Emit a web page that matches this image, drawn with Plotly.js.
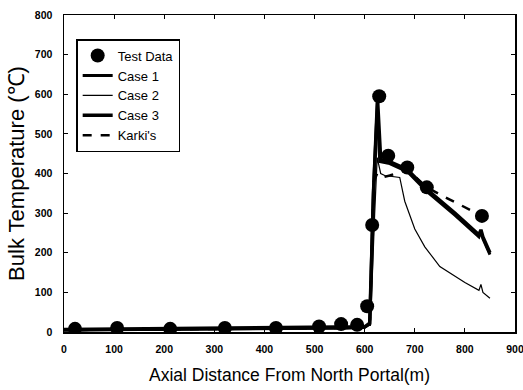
<!DOCTYPE html>
<html><head><meta charset="utf-8">
<script src="https://cdn.plot.ly/plotly-3.0.1.min.js"></script>
<style>html,body{margin:0;padding:0;background:#fff;}#c{width:523px;height:390px;}</style>
</head><body><div id="c"></div>
<script>
// Test data
var testX = [22, 106, 212, 321, 423, 509, 553, 585, 605, 615, 629, 647, 685, 724, 834];
var testY = [8, 10, 8, 10, 10, 14, 20, 18, 65, 270, 595, 445, 415, 365, 293];
// Case 1
var case1X = [0, 100, 200, 300, 400, 500, 560, 600, 610, 617, 625, 630, 650, 685, 724, 780, 828, 832, 836, 850];
var case1Y = [5, 6, 7, 7, 8, 9, 10, 12, 20, 350, 585, 430, 425, 405, 355, 295, 240, 255, 235, 195];
// Case 2
var case2X = [0, 100, 200, 300, 400, 500, 560, 600, 612, 620, 625, 632, 640, 670, 680, 700, 720, 750, 800, 828, 832, 836, 850];
var case2Y = [3, 4, 5, 5, 6, 7, 8, 10, 30, 300, 440, 400, 395, 390, 330, 260, 215, 165, 125, 105, 120, 100, 85];
// Case 3
var case3X = [0, 100, 200, 300, 400, 500, 560, 600, 610, 618, 626, 632, 650, 685, 724, 780, 828, 832, 836, 850];
var case3Y = [6, 7, 8, 8, 9, 10, 11, 13, 22, 360, 580, 435, 430, 410, 360, 300, 245, 258, 240, 200];
// Karki's
var karkiX = [0, 100, 200, 300, 400, 500, 560, 600, 610, 618, 625, 635, 650, 685, 724, 764, 834, 850];
var karkiY = [5, 6, 6, 7, 8, 9, 10, 12, 15, 380, 400, 390, 395, 410, 365, 338, 293, 288];

var traces = [
  {x: testX, y: testY, name: 'Test Data', mode: 'markers', type: 'scatter',
   marker: {color: '#000', size: 14}},
  {x: case1X, y: case1Y, name: 'Case 1', mode: 'lines', type: 'scatter',
   line: {color: '#000', width: 3}},
  {x: case2X, y: case2Y, name: 'Case 2', mode: 'lines', type: 'scatter',
   line: {color: '#000', width: 1.2}},
  {x: case3X, y: case3Y, name: 'Case 3', mode: 'lines', type: 'scatter',
   line: {color: '#000', width: 3.5}},
  {x: karkiX, y: karkiY, name: "Karki's", mode: 'lines', type: 'scatter',
   line: {color: '#000', width: 2.5, dash: 'dash'}}
];

var tickFont = {size: 10.5, weight: 'bold', color: '#000', family: 'Liberation Sans, Arial, sans-serif'};

var layout = {
  width: 523, height: 390,
  margin: {l: 64, r: 8, t: 15, b: 58},
  paper_bgcolor: '#fff', plot_bgcolor: '#fff',
  font: {family: 'Liberation Sans, Arial, sans-serif', color: '#000', size: 11},
  showlegend: true,
  legend: {x: 0.027, y: 0.924, xanchor: 'left', yanchor: 'top',
    bordercolor: '#000', borderwidth: 1.5, bgcolor: '#fff',
    font: {size: 13, color: '#000'}, tracegroupgap: 0},
  xaxis: {range: [0, 900], dtick: 100, tick0: 0, showgrid: false, zeroline: false,
    showline: true, linecolor: '#000', linewidth: 1.5, mirror: 'ticks',
    ticks: 'inside', ticklen: 4, tickcolor: '#000',
    tickfont: tickFont, ticklabelstandoff: 7, ticklabeloverflow: 'allow',
    title: {text: 'Axial Distance From North Portal(m)', font: {size: 17.5}, standoff: 14}},
  yaxis: {range: [0, 800], dtick: 100, tick0: 0, showgrid: false, zeroline: false,
    showline: true, linecolor: '#000', linewidth: 1.5, mirror: 'ticks',
    ticks: 'inside', ticklen: 4, tickcolor: '#000',
    tickfont: tickFont, ticklabelstandoff: 8, ticklabeloverflow: 'allow',
    title: {text: 'Bulk Temperature (℃)', font: {size: 22}, standoff: 4}}
};

Plotly.newPlot('c', traces, layout, {displayModeBar: false, staticPlot: true});
</script>
</body></html>
